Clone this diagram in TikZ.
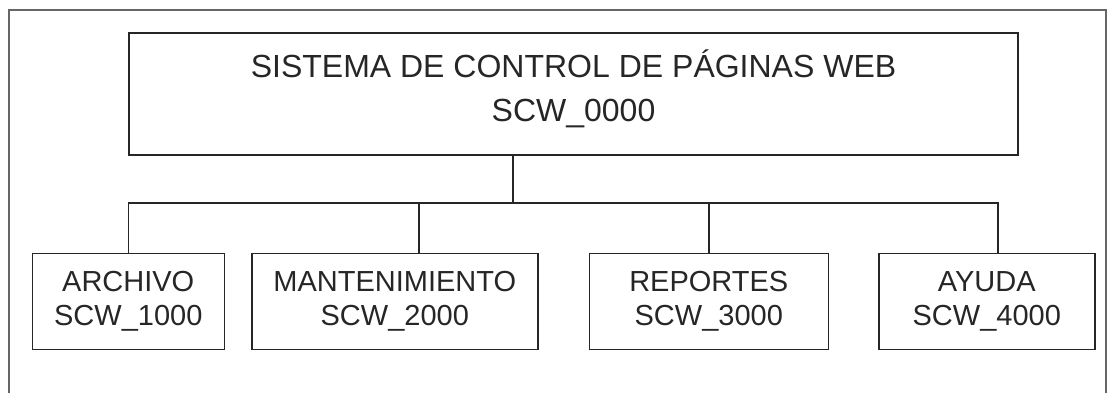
\documentclass[tikz,border=0pt]{standalone}
\usepackage{fontspec}
\setmainfont{Liberation Sans}
\usetikzlibrary{positioning}

\begin{document}
\begin{tikzpicture}[x=1pt, y=-1pt, black!85, line width=1.5pt,
		raiz/.style={draw, rectangle, align=center, minimum width=889pt, minimum height=122pt, font=\fontsize{32}{44}\selectfont},
		modulo/.style={draw, rectangle, align=center, minimum height=96pt, font=\fontsize{29}{34}\selectfont}]
			\useasboundingbox (0,0) rectangle (1108,392);
			\draw[black!60, line width=1.2pt] (9,10) rectangle (1106,400);
			\node[raiz] (scw0) at (573.5,94) {SISTEMA DE CONTROL DE PÁGINAS WEB\\SCW\_0000\rule[-17pt]{0pt}{0pt}};
			\node[modulo, minimum width=192pt, below=97pt of scw0.south west] (scw1) {ARCHIVO\\SCW\_1000};
			\node[modulo, minimum width=286pt, right=26pt of scw1] (scw2) {MANTENIMIENTO\\SCW\_2000};
			\node[modulo, minimum width=239pt, right=50pt of scw2] (scw3) {REPORTES\\SCW\_3000};
			\node[modulo, minimum width=216pt, right=49pt of scw3] (scw4) {AYUDA\\SCW\_4000};
			\coordinate (bus) at (513,203);
			\draw
			(bus |- scw0.south) -- (bus)
			(scw1.north) |- (bus) -| ([xshift=11pt]scw4.north)
			([xshift=24pt]scw2.north) -- ([xshift=24pt]scw2.north |- bus)
			(scw3.north) -- (scw3.north |- bus);
		\end{tikzpicture}
\end{document}
